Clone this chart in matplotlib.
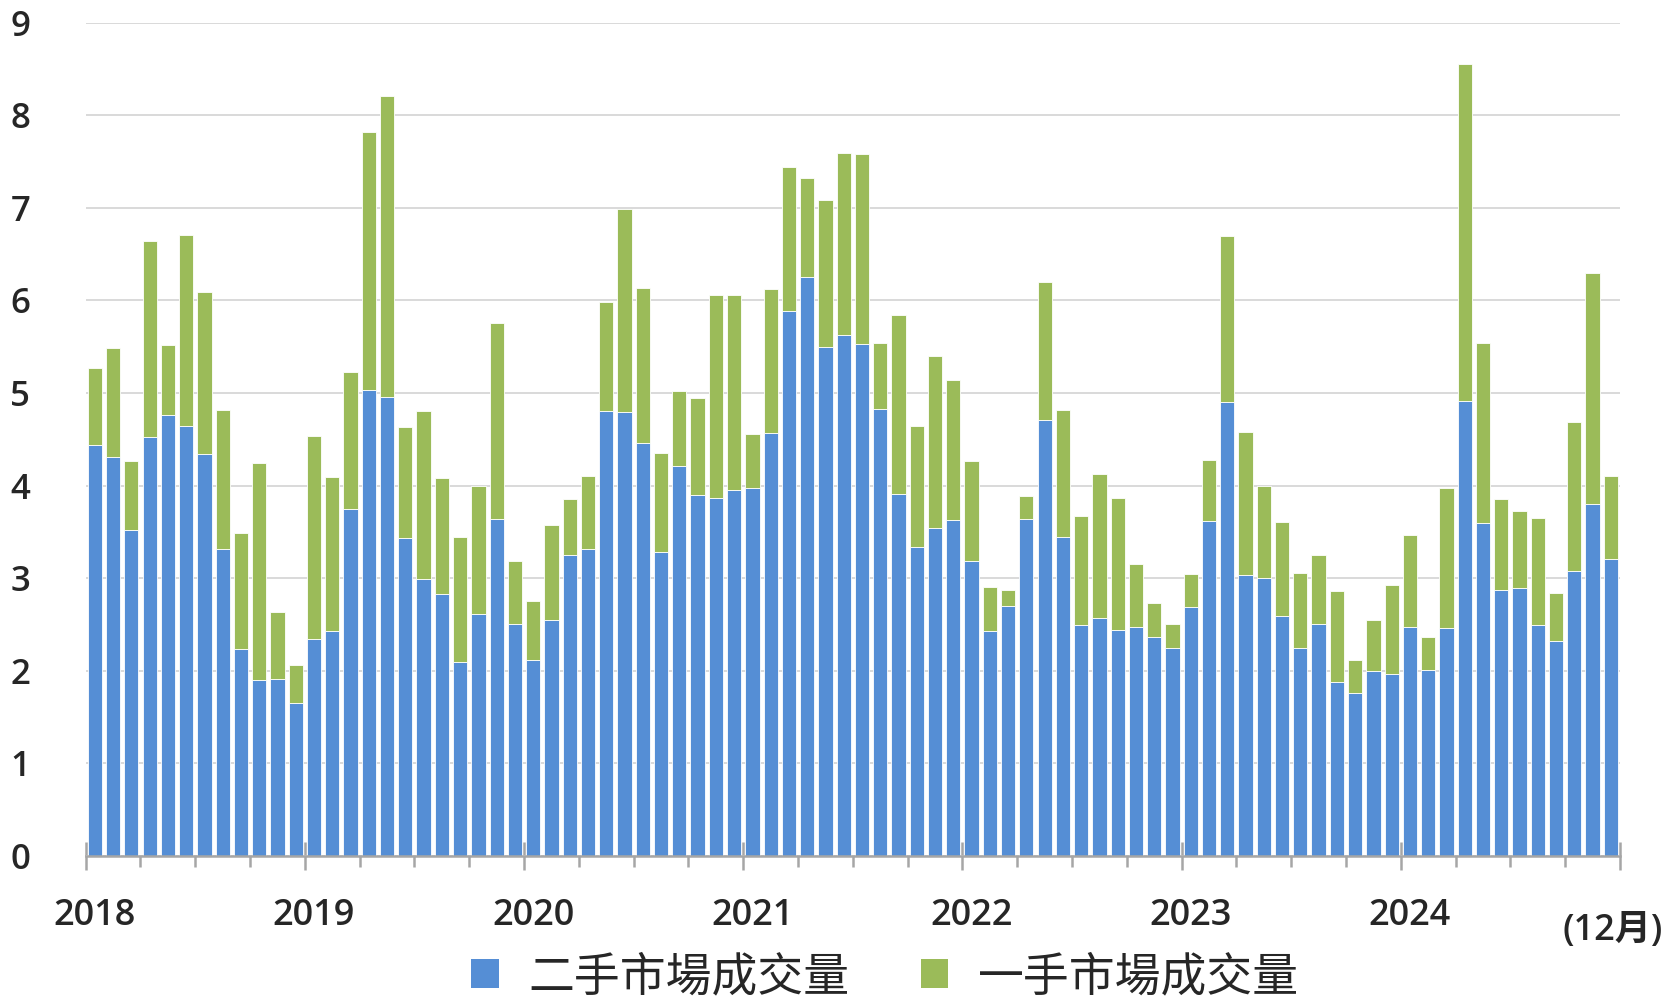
import matplotlib
matplotlib.use("Agg")
import matplotlib.pyplot as plt
import matplotlib.transforms as mtransforms
from matplotlib.patches import Patch
import numpy as np

# ---- data (monthly 2018-01 .. 2024-12) ----
years = ["2018", "2019", "2020", "2021", "2022", "2023", "2024"]
last_label = "(12月)"
series_names = ["二手市場成交量", "一手市場成交量"]

secondary = [
    4.44, 4.31, 3.52, 4.52, 4.76, 4.64, 4.34, 3.32, 2.24, 1.90, 1.91, 1.65,
    2.34, 2.43, 3.75, 5.03, 4.96, 3.43, 2.99, 2.83, 2.10, 2.61, 3.64, 2.50,
    2.12, 2.55, 3.25, 3.32, 4.80, 4.79, 4.46, 3.28, 4.21, 3.90, 3.87, 3.95,
    3.97, 4.57, 5.89, 6.25, 5.50, 5.63, 5.53, 4.83, 3.91, 3.34, 3.54, 3.63,
    3.19, 2.43, 2.70, 3.64, 4.71, 3.44, 2.49, 2.57, 2.44, 2.47, 2.36, 2.25,
    2.69, 3.62, 4.90, 3.03, 3.00, 2.59, 2.25, 2.50, 1.88, 1.76, 2.00, 1.97,
    2.47, 2.01, 2.46, 4.91, 3.60, 2.87, 2.89, 2.49, 2.32, 3.08, 3.80, 3.21,
]
primary = [
    0.83, 1.17, 0.74, 2.12, 0.76, 2.07, 1.75, 1.50, 1.25, 2.34, 0.72, 0.41,
    2.20, 1.66, 1.48, 2.79, 3.25, 1.20, 1.81, 1.25, 1.34, 1.39, 2.12, 0.68,
    0.63, 1.02, 0.61, 0.78, 1.18, 2.20, 1.67, 1.07, 0.81, 1.05, 2.19, 2.11,
    0.59, 1.55, 1.55, 1.07, 1.58, 1.96, 2.05, 0.71, 1.93, 1.30, 1.86, 1.51,
    1.08, 0.48, 0.17, 0.25, 1.49, 1.38, 1.18, 1.56, 1.43, 0.68, 0.37, 0.26,
    0.36, 0.66, 1.79, 1.55, 1.00, 1.02, 0.81, 0.75, 0.98, 0.36, 0.55, 0.96,
    1.00, 0.36, 1.51, 3.64, 1.94, 0.98, 0.83, 1.16, 0.52, 1.61, 2.49, 0.89,
]
yticks = [0, 1, 2, 3, 4, 5, 6, 7, 8, 9]

BLUE = "#558ED5"
GREEN = "#9BBB59"
TXT = "#262626"
FONT = ["Noto Sans", "Noto Sans CJK TC", "DejaVu Sans"]
NUMFONT = ["Open Sans", "Noto Sans CJK TC", "DejaVu Sans"]
plt.rcParams["font.family"] = FONT

W, H = 1680, 998
fig = plt.figure(figsize=(W / 100, H / 100), dpi=100)
left, right = 85.7 / W, 1620 / W
top, bottom = 1 - 22.5 / H, 1 - 856 / H
ax = fig.add_axes([left, bottom, right - left, top - bottom])

n = len(secondary)
x = np.arange(n)
ax.bar(x, secondary, width=0.78, color=BLUE, edgecolor="white", linewidth=0.6, zorder=3)
ax.bar(x, primary, bottom=secondary, width=0.78, color=GREEN, edgecolor="white",
       linewidth=0.6, zorder=3)

ax.set_xlim(-0.5, n - 0.5)
ax.set_ylim(0, 9)
ax.set_yticks(yticks)
ax.set_yticklabels([str(v) for v in yticks], fontsize=25, color=TXT,
                   family=NUMFONT, fontweight=600)
ax.tick_params(axis="y", length=0, pad=40)
ax.yaxis.grid(True, color="#d9d9d9", linewidth=1.4, zorder=0)
ax.set_axisbelow(True)

for s in ["top", "right", "left"]:
    ax.spines[s].set_visible(False)
ax.spines["bottom"].set_color("#a6a6a6")
ax.spines["bottom"].set_linewidth(1.8)
ax.spines["bottom"].set_zorder(4)

ax.set_xticks(np.arange(-0.5, n, 12))
ax.set_xticks(np.arange(-0.5, n, 3), minor=True)
ax.set_xticklabels([])
ax.tick_params(axis="x", which="major", direction="inout", length=20, width=1.8,
               color="#a6a6a6")
ax.tick_params(axis="x", which="minor", direction="out", length=8, width=1.8,
               color="#a6a6a6")

trans = mtransforms.blended_transform_factory(ax.transData, fig.transFigure)
for i, yr in enumerate(years):
    ax.text(i * 12, 1 - 916 / H, yr, transform=trans, ha="center", va="center",
            fontsize=26, color=TXT, family=NUMFONT, fontweight=600)
ax.text(n - 0.9, 1 - 931 / H, last_label, transform=trans, ha="center", va="center",
        fontsize=26, color=TXT, family=NUMFONT, fontweight=600)

handles = [Patch(facecolor=BLUE), Patch(facecolor=GREEN)]
fig.legend(handles, series_names, loc="center", bbox_to_anchor=(885 / W, 1 - 978 / H),
           ncol=2, frameon=False, fontsize=33, handlelength=0.6, handleheight=0.6,
           handletextpad=0.65, columnspacing=1.55, labelcolor=TXT)

fig.savefig("out.png", dpi=100)
